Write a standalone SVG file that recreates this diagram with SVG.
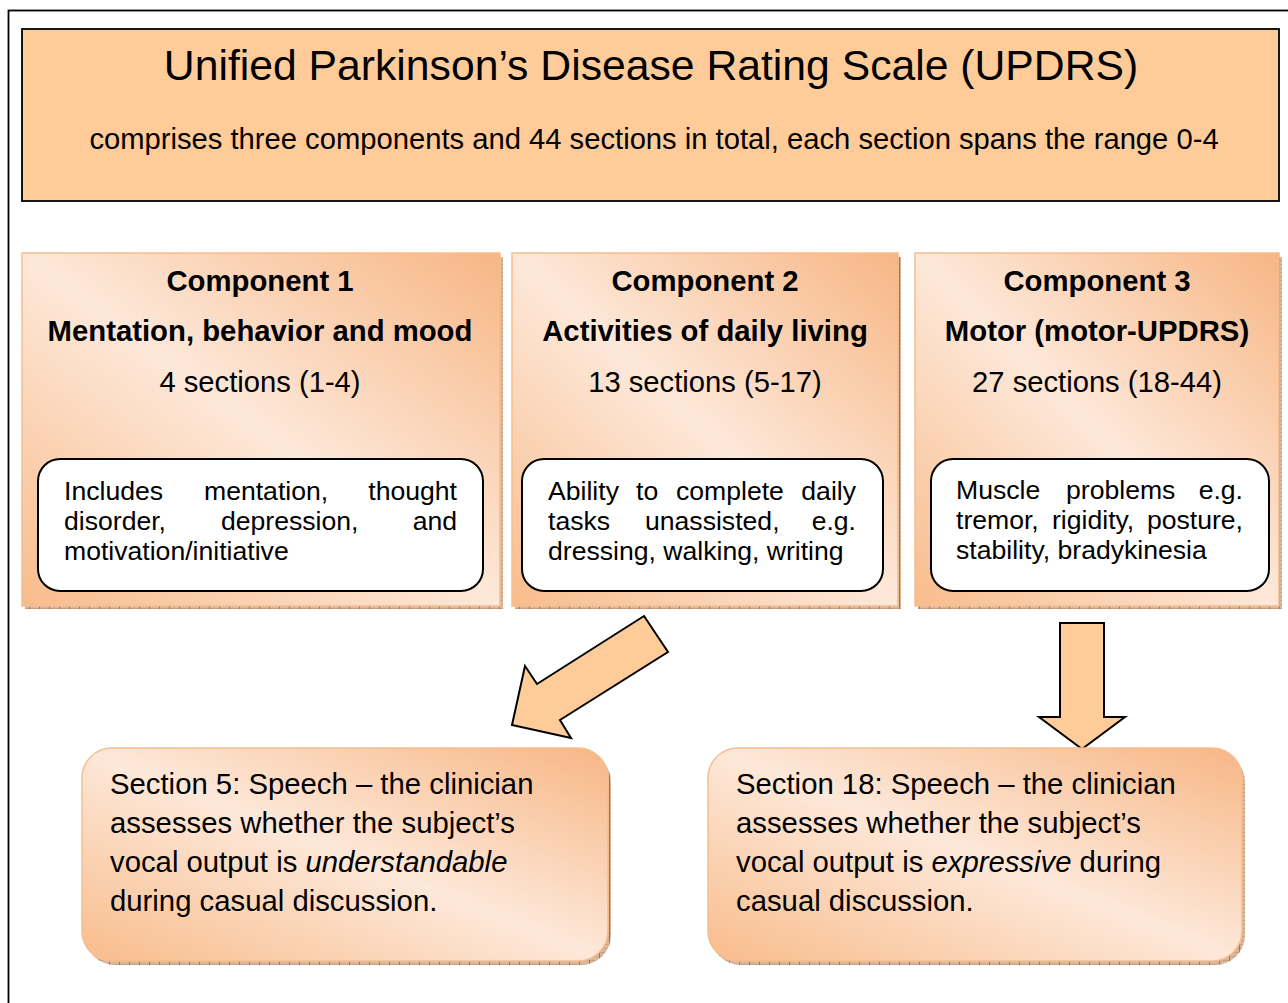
<svg xmlns="http://www.w3.org/2000/svg" width="1288" height="1003" viewBox="0 0 1288 1003">
<defs>
<linearGradient id="gC" x1="1" y1="0" x2="0" y2="1">
<stop offset="0" stop-color="#F7B684"/>
<stop offset="0.5" stop-color="#FDE8D9"/>
<stop offset="1" stop-color="#F8BC8B"/>
</linearGradient>
<pattern id="hatch" width="10" height="4" patternUnits="userSpaceOnUse">
<rect width="10" height="4" fill="#D8B89C"/>
<rect x="0" y="0" width="10" height="1" fill="#C9A180"/>
<rect x="9" y="0" width="1" height="4" fill="#A57650"/>
</pattern>
<style>
text{font-family:"Liberation Sans",Arial,sans-serif;fill:#000}
.title{font-size:42.7px}
.sub{font-size:29.2px}
.head{font-size:29.3px;font-weight:bold}
.sec{font-size:29.2px}
.desc{font-size:26.6px}
.body{font-size:29.3px}
.comp{fill:url(#gC);stroke:#F6BD8F;stroke-width:1.5}
.shadow{fill:url(#hatch)}
.inner{fill:#fff;stroke:#000;stroke-width:2}
.arrow{fill:#FFCC99;stroke:#000;stroke-width:2;stroke-linejoin:miter}
</style>
</defs>
<rect x="0" y="0" width="1288" height="1003" fill="#fff"/>
<rect id="frame" x="8.5" y="10.5" width="1300" height="1010" fill="none" stroke="#000" stroke-width="1.8"/>

<g id="header">
<rect x="22" y="29" width="1257" height="172" fill="#FFCC99" stroke="#000" stroke-width="1.8"/>
<text class="title" x="651" y="80" text-anchor="middle">Unified Parkinson’s Disease Rating Scale (UPDRS)</text>
<text class="sub" x="654" y="149" text-anchor="middle">comprises three components and 44 sections in total, each section spans the range 0-4</text>
</g>

<g id="component1">
<rect class="shadow" x="25" y="257" width="478" height="352"/>
<rect class="comp" x="22" y="253" width="478" height="353"/>
<text class="head" x="260" y="291" text-anchor="middle">Component 1</text>
<text class="head" x="260" y="341" text-anchor="middle">Mentation, behavior and mood</text>
<text class="sec" x="260" y="392" text-anchor="middle">4 sections (1-4)</text>
<rect class="inner" x="38" y="459" width="445" height="132" rx="22"/>
<text class="desc" x="64" y="500">Includes</text>
<text class="desc" x="204" y="500">mentation,</text>
<text class="desc" x="457" y="500" text-anchor="end">thought</text>
<text class="desc" x="64" y="530">disorder,</text>
<text class="desc" x="221" y="530">depression,</text>
<text class="desc" x="457" y="530" text-anchor="end">and</text>
<text class="desc" x="64" y="560">motivation/initiative</text>
</g>

<g id="component2">
<rect class="shadow" x="515" y="257" width="386" height="352"/>
<rect class="comp" x="512" y="253" width="386" height="353"/>
<text class="head" x="705" y="291" text-anchor="middle">Component 2</text>
<text class="head" x="705" y="341" text-anchor="middle">Activities of daily living</text>
<text class="sec" x="705" y="392" text-anchor="middle">13 sections (5-17)</text>
<rect class="inner" x="522" y="459" width="361" height="132" rx="22"/>
<text class="desc" x="548" y="500">Ability</text>
<text class="desc" x="636" y="500">to</text>
<text class="desc" x="676" y="500">complete</text>
<text class="desc" x="856" y="500" text-anchor="end">daily</text>
<text class="desc" x="548" y="530">tasks</text>
<text class="desc" x="645" y="530">unassisted,</text>
<text class="desc" x="856" y="530" text-anchor="end">e.g.</text>
<text class="desc" x="548" y="560">dressing, walking, writing</text>
</g>

<g id="component3">
<rect class="shadow" x="918" y="257" width="364" height="352"/>
<rect class="comp" x="915" y="253" width="364" height="353"/>
<text class="head" x="1097" y="291" text-anchor="middle">Component 3</text>
<text class="head" x="1097" y="341" text-anchor="middle">Motor (motor-UPDRS)</text>
<text class="sec" x="1097" y="392" text-anchor="middle">27 sections (18-44)</text>
<rect class="inner" x="931" y="459" width="338" height="132" rx="22"/>
<text class="desc" x="956" y="499">Muscle</text>
<text class="desc" x="1066" y="499">problems</text>
<text class="desc" x="1243" y="499" text-anchor="end">e.g.</text>
<text class="desc" x="956" y="529">tremor,</text>
<text class="desc" x="1052" y="529">rigidity,</text>
<text class="desc" x="1243" y="529" text-anchor="end">posture,</text>
<text class="desc" x="956" y="559">stability, bradykinesia</text>
</g>

<g id="connectors">
<polygon class="arrow" points="644,616 668,652 560,720 571,738 512,725 525,666 537,684"/>
<polygon class="arrow" points="1060,623 1104,623 1104,717 1125,717 1082,749 1039,717 1060,717"/>
</g>

<g id="section5">
<rect class="shadow" x="85" y="752" width="526" height="213" rx="30"/>
<rect class="comp" x="82" y="748" width="526" height="213" rx="30"/>
<text class="body" x="110" y="794">Section 5: Speech – the clinician</text>
<text class="body" x="110" y="833">assesses whether the subject’s</text>
<text class="body" x="110" y="872">vocal output is <tspan font-style="italic">understandable</tspan></text>
<text class="body" x="110" y="911">during casual discussion.</text>
</g>

<g id="section18">
<rect class="shadow" x="711" y="752" width="534" height="213" rx="30"/>
<rect class="comp" x="708" y="748" width="534" height="213" rx="30"/>
<text class="body" x="736" y="794">Section 18: Speech – the clinician</text>
<text class="body" x="736" y="833">assesses whether the subject’s</text>
<text class="body" x="736" y="872">vocal output is <tspan font-style="italic">expressive</tspan> during</text>
<text class="body" x="736" y="911">casual discussion.</text>
</g>
</svg>
